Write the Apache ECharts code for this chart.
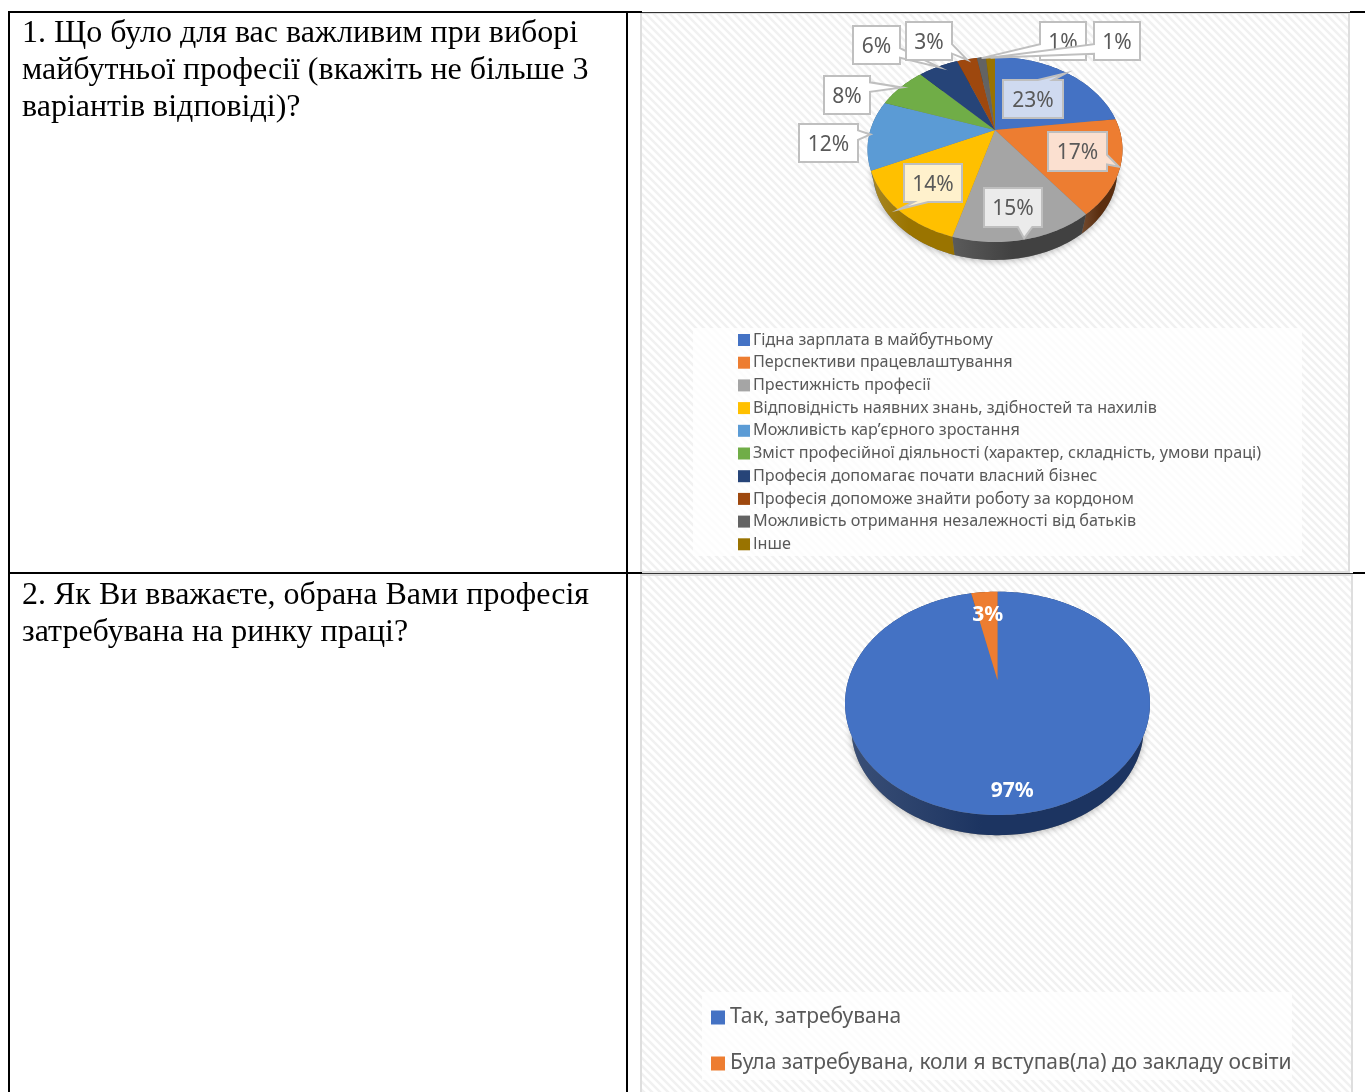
<!DOCTYPE html>
<html>
<head>
<meta charset="utf-8">
<style>
  html, body { margin: 0; padding: 0; background: #fff; }
  #main { width: 1365px; height: 1092px; }
</style>
<script src="https://cdn.jsdelivr.net/npm/echarts@6/dist/echarts.min.js"></script>
</head>
<body>
<div id="main"></div>
<script>
// питання 1
const careerNames = [
  'Гідна зарплата в майбутньому',
  'Перспективи працевлаштування',
  'Престижність професії',
  'Відповідність наявних знань, здібностей та нахилів',
  'Можливість кар’єрного зростання',
  'Зміст професійної діяльності (характер, складність, умови праці)',
  'Професія допомагає почати власний бізнес',
  'Професія допоможе знайти роботу за кордоном',
  'Можливість отримання незалежності від батьків',
  'Інше'
]
// підписи округлені, значення прочитані за розмірами секторів
const careerValues = [23, 16.6, 14.8, 13.7, 12.2, 7.6, 6.2, 3.1, 1.4, 1.4]

// питання 2
const demandNames = ['Так, затребувана', 'Була затребувана, коли я вступав(ла) до закладу освіти']
const demandValues = [96.6, 3.4]

const question1 = '1. Що було для вас важливим при виборі\nмайбутньої професії (вкажіть не більше 3\nваріантів відповіді)?'
const question2 = '2. Як Ви вважаєте, обрана Вами професія\nзатребувана на ринку праці?'

const careerColors = ['#4472c4', '#ed7d31', '#a5a5a5', '#ffc000', '#5b9bd5', '#70ad47', '#264478', '#9e480e', '#636363', '#997300']
const careerSides = ['#2a4678', '#5a2d0e', '#414141', '#9a7400', '#375f82', '#44682b', '#17294a', '#602c09', '#3c3c3c', '#5d4600']
const careerFills = ['#cfdaf0', '#fbe0d0', '#ebebeb', '#fff1cc', '#ffffff', '#ffffff', '#ffffff', '#ffffff', '#ffffff', '#ffffff']
const demandColors = ['#4472c4', '#ed7d31']
const demandSides = ['#1c3461', '#5e3215']

// положення підписів-виносок: [x0, y0, x1, y1]
const careerBoxes = [
  [1003, 80, 1063, 118], [1048, 132, 1107, 171], [984, 188, 1042, 227], [904, 164, 962, 202], [799, 124, 858, 162],
  [824, 76, 870, 114], [853, 26, 900, 64], [906, 22, 952, 60], [1040, 22, 1086, 60], [1094, 22, 1140, 60]
]

const LABEL_FONT = '"Noto Sans", sans-serif'

// перспектива: центр пирога зміщений вгору відносно еліпса, нижній край трохи менший
const pie1 = { cx: 995, cy: 130, a: 124.6, b: 88.4, k: 0.211, depth: 19, shrink: 0.96 }
const pie2 = { cx: 997.5, cy: 680, a: 149.1, b: 106.8, k: 0.209, depth: 21.5, shrink: 0.96 }

function project(p, angle, r) {
  const u = Math.sin(angle) * r
  const v = -Math.cos(angle) * r
  const d = 1 - p.k * v
  return [p.cx + p.a * u / d, p.cy + p.b * v / d]
}

function arc(p, a0, a1, r, dy) {
  const pts = []
  const n = Math.max(2, Math.ceil((a1 - a0) / 0.02))
  for (let i = 0; i <= n; i++) {
    const q = project(p, a0 + (a1 - a0) * i / n, r)
    pts.push([q[0], q[1] + dy])
  }
  return pts
}

function lowArc(p, a0, a1) {
  const dy = p.depth + (1 - p.shrink) * p.b / (1 - p.k)
  return arc(p, a0, a1, p.shrink, dy)
}

function startAngle(values, i) {
  const total = values.reduce((s, v) => s + v, 0)
  let sum = 0
  for (let j = 0; j < i; j++) sum += values[j]
  return sum / total * Math.PI * 2
}

// виноска як у Office: хвіст виходить з найближчої сторони
function calloutPoints(box, tip) {
  const [x0, y0, x1, y1] = box
  const w = x1 - x0, h = y1 - y0
  const dx = (tip[0] - (x0 + x1) / 2) / w
  const dy = (tip[1] - (y0 + y1) / 2) / h
  if (Math.abs(dx) > Math.abs(dy)) {
    const f = dy < 0 ? [2 / 12, 5 / 12] : [7 / 12, 10 / 12]
    const a = y0 + h * f[0], b = y0 + h * f[1]
    if (dx > 0) return [[x0, y0], [x1, y0], [x1, a], tip, [x1, b], [x1, y1], [x0, y1]]
    return [[x0, y0], [x1, y0], [x1, y1], [x0, y1], [x0, b], tip, [x0, a]]
  }
  const f = dx < 0 ? [2 / 12, 5 / 12] : [7 / 12, 10 / 12]
  const a = x0 + w * f[0], b = x0 + w * f[1]
  if (dy > 0) return [[x0, y0], [x1, y0], [x1, y1], [b, y1], tip, [a, y1], [x0, y1]]
  return [[x0, y0], [a, y0], tip, [b, y0], [x1, y0], [x1, y1], [x0, y1]]
}

function sliceSeries(names, values, colors, sides, p, z) {
  const total = values.reduce((s, v) => s + v, 0)
  return names.map((name, i) => ({
    name: name,
    type: 'custom',
    coordinateSystem: 'none',
    z: z,
    silent: true,
    itemStyle: { color: colors[i] },
    data: [[values[i]]],
    renderItem: function (params, api) {
      const a0 = startAngle(values, i)
      const a1 = a0 + api.value(0) / total * Math.PI * 2
      const top = arc(p, a0, a1, 1, 0)
      const low = lowArc(p, a0, a1).reverse()
      const side = new echarts.graphic.LinearGradient(0, 0, 1, 0, [
        { offset: 0, color: echarts.color.lift(sides[i], 0.14) },
        { offset: 0.45, color: sides[i] },
        { offset: 1, color: sides[i] }
      ])
      return {
        type: 'group',
        children: [
          { type: 'polygon', z2: 1, shape: { points: top.concat(low) }, style: { fill: side } },
          { type: 'polygon', z2: 2, shape: { points: [[p.cx, p.cy]].concat(top) }, style: { fill: colors[i] } }
        ]
      }
    }
  }))
}

// тінь під пирогом
function shadowSeries(p) {
  return {
    type: 'custom',
    coordinateSystem: 'none',
    z: 2,
    silent: true,
    data: [[1]],
    renderItem: function () {
      return {
        type: 'polygon',
        shape: { points: lowArc(p, 0, Math.PI * 2) },
        style: { fill: '#777', shadowBlur: 7, shadowColor: 'rgba(0,0,0,0.3)', shadowOffsetY: 1 }
      }
    }
  }
}

const careerLabels = {
  type: 'custom',
  coordinateSystem: 'none',
  z: 5,
  silent: true,
  data: careerValues.map((v, i) => [v, i]),
  renderItem: function (params, api) {
    const i = api.value(1)
    const a0 = startAngle(careerValues, i)
    const mid = a0 + api.value(0) / 200 * Math.PI * 2
    const tip = project(pie1, mid, 0.99)
    const box = careerBoxes[i]
    return {
      type: 'group',
      children: [
        { type: 'polygon', shape: { points: calloutPoints(box, tip) }, style: { fill: careerFills[i], stroke: '#bfbfbf', lineWidth: 2 } },
        { type: 'text', style: { x: (box[0] + box[2]) / 2, y: (box[1] + box[3]) / 2 + 2, text: Math.round(api.value(0)) + '%', align: 'center', verticalAlign: 'middle', fontSize: 21, fontFamily: LABEL_FONT, fill: '#595959' } }
      ]
    }
  }
}

const demandLabels = {
  type: 'custom',
  coordinateSystem: 'none',
  z: 5,
  silent: true,
  data: demandValues.map((v, i) => [v, i]),
  renderItem: function (params, api) {
    const i = api.value(1)
    const a0 = startAngle(demandValues, i)
    const mid = a0 + api.value(0) / 200 * Math.PI * 2
    const pos = project(pie2, mid, i === 0 ? 0.86 : 0.7)
    return { type: 'text', style: { x: pos[0] - (i === 0 ? 2 : 0), y: pos[1], text: Math.round(api.value(0)) + '%', align: 'center', verticalAlign: 'middle', fontSize: 21, fontWeight: 'bold', fontFamily: LABEL_FONT, fill: '#fff' } }
  }
}

// смужки фону
function stripes() {
  const c = document.createElement('canvas')
  c.width = 8
  c.height = 8
  const g = c.getContext('2d')
  g.fillStyle = '#ffffff'
  g.fillRect(0, 0, 8, 8)
  g.strokeStyle = '#f1f1f1'
  g.lineWidth = 2.6
  g.beginPath()
  g.moveTo(-2, -2); g.lineTo(10, 10)
  g.moveTo(-2, 6); g.lineTo(2, 10)
  g.moveTo(6, -2); g.lineTo(10, 2)
  g.stroke()
  return c
}

function lineRect(x, y, w, h, color) {
  return { type: 'rect', z: 10, silent: true, shape: { x: x, y: y, width: w, height: h }, style: { fill: color } }
}
function panel(x, y, w, h) {
  return { type: 'rect', z: 0, silent: true, shape: { x: x, y: y, width: w, height: h }, style: { fill: { image: stripes(), repeat: 'repeat' }, stroke: '#dedede', lineWidth: 2 } }
}
function legendBox(x, y, w, h) {
  return { type: 'rect', z: 1, silent: true, shape: { x: x, y: y, width: w, height: h }, style: { fill: 'rgba(255,255,255,0.8)' } }
}
function question(text, y) {
  return { type: 'text', z: 10, silent: true, style: { x: 22, y: y, text: text, fontFamily: '"Liberation Serif", serif', fontSize: 32, lineHeight: 37, fill: '#000' } }
}

const myChart = echarts.init(document.getElementById('main'), null, { renderer: 'canvas' })
myChart.setOption({
  animation: false,
  backgroundColor: '#fff',
  legend: [
    {
      data: careerNames,
      orient: 'vertical',
      left: 738,
      top: 332,
      padding: 0,
      icon: 'rect',
      itemWidth: 12,
      itemHeight: 12,
      itemGap: 6.7,
      align: 'left',
      textStyle: { fontFamily: LABEL_FONT, fontSize: 16.2, color: '#595959', padding: [0, 0, 0, -2] }
    },
    {
      data: demandNames,
      orient: 'vertical',
      left: 711,
      top: 1007,
      padding: 0,
      icon: 'rect',
      itemWidth: 14,
      itemHeight: 14,
      itemGap: 25,
      align: 'left',
      textStyle: { fontFamily: LABEL_FONT, fontSize: 21, color: '#595959', padding: [0, 0, 0, 0] }
    }
  ],
  graphic: [
    panel(641, 13, 708, 559),
    panel(641, 575, 711, 520),
    legendBox(693, 328, 609, 228),
    legendBox(702, 992, 590, 88),
    lineRect(8, 11, 634, 2, '#000'),
    lineRect(642, 12, 708, 1, '#333'),
    lineRect(1350, 11, 15, 2, '#000'),
    lineRect(8, 572, 634, 2, '#000'),
    lineRect(642, 573, 711, 1, '#333'),
    lineRect(1353, 572, 12, 2, '#000'),
    lineRect(8, 11, 2, 1081, '#000'),
    lineRect(626, 11, 2, 1081, '#000'),
    question(question1, 15),
    question(question2, 577)
  ],
  series: [shadowSeries(pie1), shadowSeries(pie2)]
    .concat(sliceSeries(careerNames, careerValues, careerColors, careerSides, pie1, 3))
    .concat(sliceSeries(demandNames, demandValues, demandColors, demandSides, pie2, 3))
    .concat([careerLabels, demandLabels])
})
</script>
</body>
</html>
